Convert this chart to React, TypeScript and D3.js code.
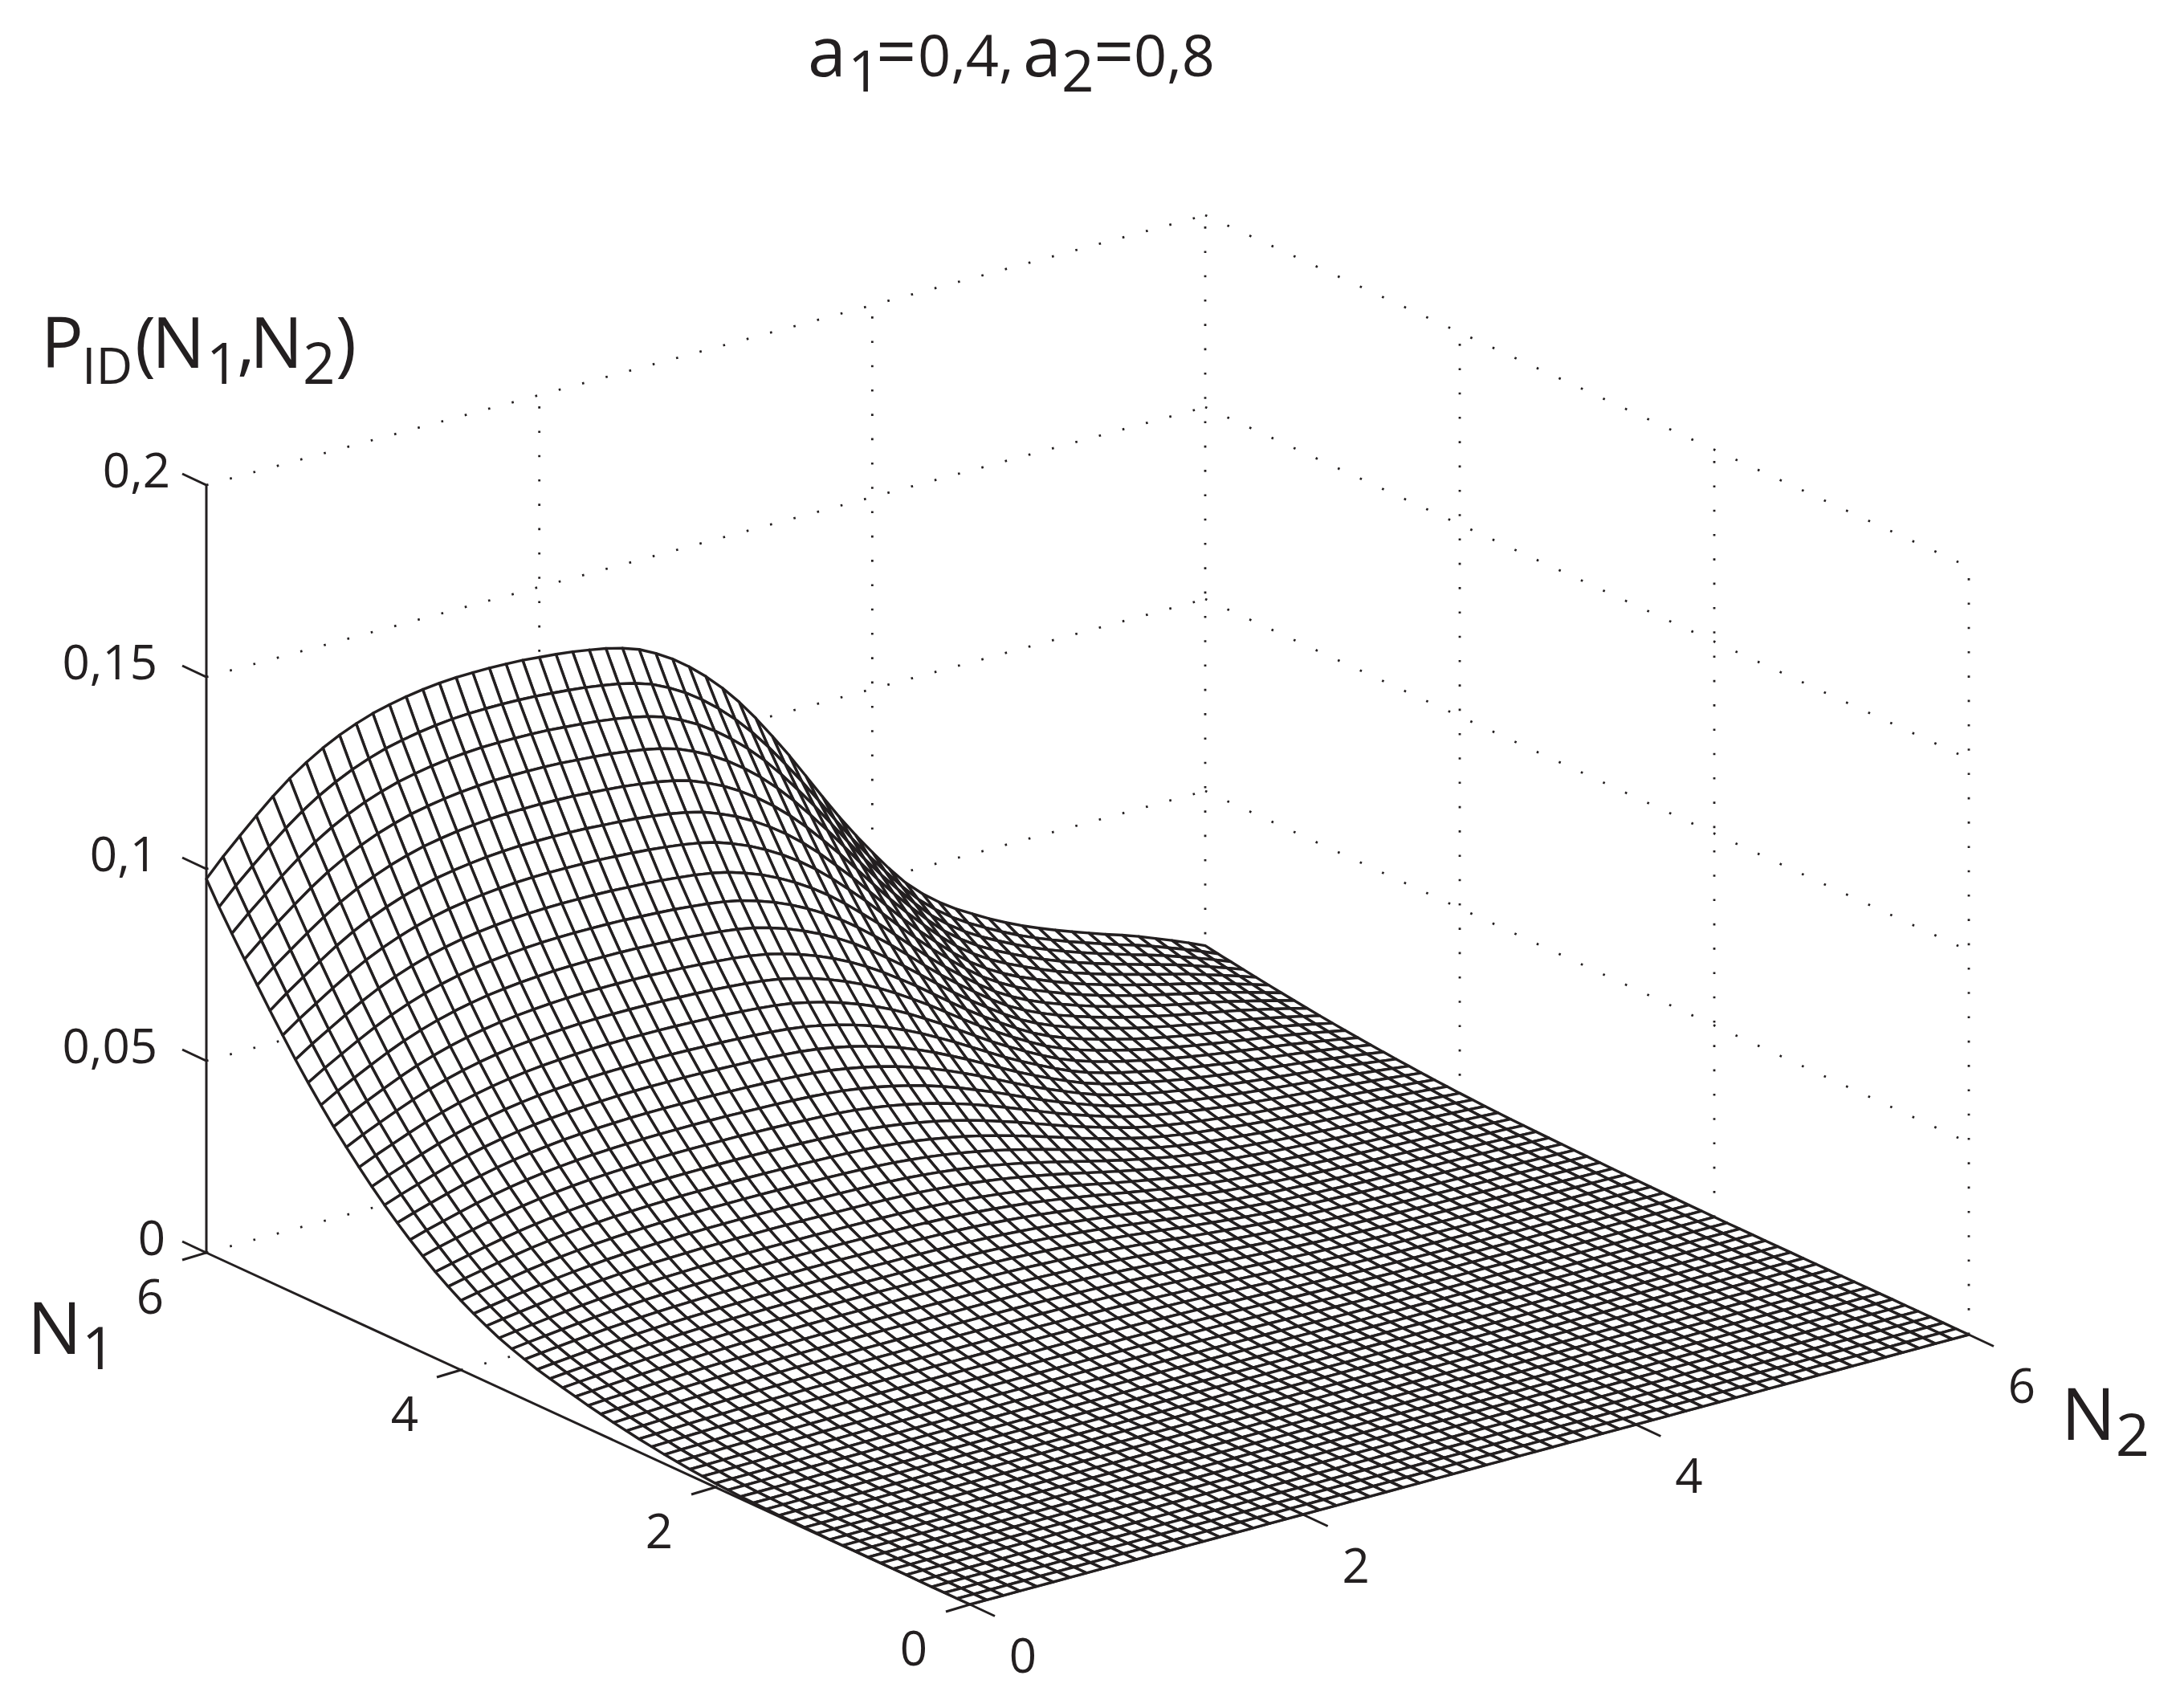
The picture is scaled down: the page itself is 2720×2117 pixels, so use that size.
import React from "react";
import * as d3 from "d3";

// Heights, one value per mesh node (step 0.1).
// Along N2 = 0, from N1 = 0 to N1 = 6
const edgeAtN2Zero = [
  0,0,0,0,0,0.0001,0.0001,0.0001,0.0001,0.0001,0.0001,0.0001,0.0002,0.0002,0.0003,0.0003,0.0004,0.0005,0.0006,0.0008,
  0.0010,0.0013,0.0016,0.0020,0.0024,0.0029,0.0034,0.0040,0.0046,0.0053,0.0060,0.0068,0.0076,0.0084,0.0093,0.0104,0.0116,0.0129,0.0145,0.0162,
  0.0181,0.0202,0.0225,0.0251,0.0278,0.0307,0.0338,0.0371,0.0406,0.0443,0.0481,0.0522,0.0565,0.0610,0.0658,0.0707,0.0758,0.0810,0.0862,0.0916,0.0974,
];
// Along N1 = 6, from N2 = 0 to N2 = 6
const edgeAtN1Six = [
  0.0974,0.1020,0.1062,0.1103,0.1142,0.1177,0.1207,0.1233,0.1255,0.1273,0.1288,0.1299,0.1308,0.1315,0.1320,0.1323,0.1324,0.1324,0.1323,0.1321,
  0.1317,0.1313,0.1308,0.1301,0.1293,0.1282,0.1267,0.1245,0.1219,0.1187,0.1150,0.1108,0.1060,0.1006,0.0947,0.0886,0.0821,0.0755,0.0691,0.0631,
  0.0575,0.0521,0.0472,0.0432,0.0398,0.0369,0.0344,0.0320,0.0298,0.0278,0.0260,0.0243,0.0227,0.0212,0.0197,0.0183,0.0168,0.0151,0.0134,0.0116,0.0097,
];
const cornerHeight = 0.0974;
const zTicks = [0, 0.05, 0.1, 0.15, 0.2];
const zTickLabels = ["0", "0,05", "0,1", "0,15", "0,2"];
const nTicks = [0, 2, 4, 6];
const nTickLabels = ["0", "2", "4", "6"];

const WIDTH = 2720;
const HEIGHT = 2117;
const INK = "#231f20";
const FONT = "'Open Sans', sans-serif";

const n1X = d3.scaleLinear().domain([0, 6]).range([0, 257 - 1208]);
const n1Y = d3.scaleLinear().domain([0, 6]).range([0, 1560 - 1998]);
const n2X = d3.scaleLinear().domain([0, 6]).range([0, 2452 - 1208]);
const n2Y = d3.scaleLinear().domain([0, 6]).range([0, 1662 - 1998]);
const zY = d3.scaleLinear().domain([0, 0.2]).range([0, -956]);

type P3 = [number, number, number];
const project = ([a, b, z]: P3): [number, number] => [
  1208 + n1X(a) + n2X(b),
  1998 + n1Y(a) + n2Y(b) + zY(z),
];
const pathOf = d3.line<P3>().x((p) => project(p)[0]).y((p) => project(p)[1]);

const node = (i: number, j: number): P3 => [
  i / 10,
  j / 10,
  (edgeAtN2Zero[i] * edgeAtN1Six[j]) / cornerHeight,
];

function buildQuads(): string[] {
  const out: string[] = [];
  for (let i = edgeAtN2Zero.length - 2; i >= 0; i--) {
    for (let j = edgeAtN1Six.length - 2; j >= 0; j--) {
      out.push(pathOf([node(i, j), node(i + 1, j), node(i + 1, j + 1), node(i, j + 1), node(i, j)]) as string);
    }
  }
  return out;
}

function buildGrid(): P3[][] {
  const lines: P3[][] = [];
  for (const z of zTicks) {
    lines.push([[6, 0, z], [6, 6, z]]);
    lines.push([[6, 6, z], [0, 6, z]]);
  }
  for (const t of [2, 4, 6]) lines.push([[6, t, 0], [6, t, 0.2]]);
  for (const t of [4, 2, 0]) lines.push([[t, 6, 0], [t, 6, 0.2]]);
  for (const t of [2, 4]) {
    lines.push([[t, 0, 0], [t, 6, 0]]);
    lines.push([[0, t, 0], [6, t, 0]]);
  }
  return lines;
}

const zLabelEnd = [206, 196, 196, 196, 212];

export default function App() {
  const quads = buildQuads();
  const grid = buildGrid();
  const f = FONT;
  return (
    <svg width={WIDTH} height={HEIGHT} viewBox={`0 0 ${WIDTH} ${HEIGHT}`}
      style={{ position: "absolute", left: 0, top: 0, background: "#fff" }}>
      <g fill="none" stroke={INK} strokeWidth={2.8} strokeDasharray="2.6 27.7">
        {grid.map((l, k) => <path key={k} d={pathOf(l) as string} />)}
      </g>
      <g fill="none" stroke={INK} strokeWidth={3}>
        <path d={pathOf([[6, 0, 0], [6, 0, 0.2]]) as string} />
        <path d={pathOf([[6, 0, 0], [0, 0, 0]]) as string} />
        <path d={pathOf([[0, 0, 0], [0, 6, 0]]) as string} />
        {zTicks.map((z) => {
          const [x, y] = project([6, 0, z]);
          return <line key={z} x1={x} y1={y} x2={x - 30} y2={y - 14} />;
        })}
        {nTicks.map((t) => {
          const [x, y] = project([t, 0, 0]);
          return <line key={t} x1={x} y1={y} x2={x - 30} y2={y + 9} />;
        })}
        {nTicks.map((t) => {
          const [x, y] = project([0, t, 0]);
          return <line key={t} x1={x} y1={y} x2={x + 31} y2={y + 14.5} />;
        })}
      </g>
      <g fill="#fff" stroke={INK} strokeWidth={3.4} strokeLinejoin="round">
        {quads.map((d, k) => <path key={k} d={d} />)}
      </g>
      <g fontFamily={f} fill={INK} fontSize={60}>
        {zTicks.map((z, k) => {
          const [, y] = project([6, 0, z]);
          return <text key={z} x={zLabelEnd[k]} y={y + 3} textAnchor="end">{zTickLabels[k]}</text>;
        })}
        {nTicks.map((t, k) => {
          const [x, y] = project([t, 0, 0]);
          return <text key={t} x={x - 70} y={y + 76} textAnchor="middle">{nTickLabels[k]}</text>;
        })}
        {nTicks.map((t, k) => {
          const [x, y] = project([0, t, 0]);
          return <text key={t} x={x + 66} y={y + 85} textAnchor="middle">{nTickLabels[k]}</text>;
        })}
      </g>
      <g fontFamily={f} fill={INK}>
        <text y={95} fontSize={72}>
          <tspan x={1006} fontSize={86}>a</tspan>
          <tspan x={1056} dy={19} fontSize={71}>1</tspan>
          <tspan x={1091} dy={-19} fontSize={88}>=</tspan>
          <tspan x={1143}>0,4,</tspan>
          <tspan x={1274} fontSize={86}>a</tspan>
          <tspan x={1322} dy={19} fontSize={71}>2</tspan>
          <tspan x={1362} dy={-19} fontSize={88}>=</tspan>
          <tspan x={1412}>0,8</tspan>
        </text>
        <text y={458} fontSize={88}>
          <tspan x={51}>P</tspan>
          <tspan x={102} dy={20} fontSize={63}>ID</tspan>
          <tspan x={168} dy={-20}>(</tspan>
          <tspan x={189}>N</tspan>
          <tspan x={257} dy={20} fontSize={71}>1</tspan>
          <tspan x={295} dy={-20}>,</tspan>
          <tspan x={311}>N</tspan>
          <tspan x={377} dy={20} fontSize={71}>2</tspan>
          <tspan x={418} dy={-20}>)</tspan>
        </text>
        <text x={34} y={1686} fontSize={90}>
          N<tspan dy={19} fontSize={74}>1</tspan>
        </text>
        <text x={2567} y={1793} fontSize={90}>
          N<tspan dy={20} fontSize={74}>2</tspan>
        </text>
      </g>
    </svg>
  );
}
